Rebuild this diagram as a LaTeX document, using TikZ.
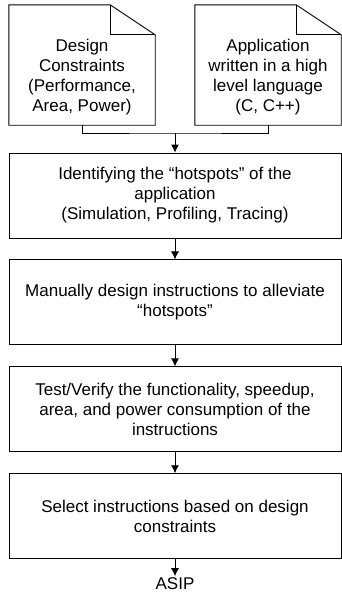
\documentclass[tikz,border=0pt]{standalone}
\usepackage{fontspec}
\setmainfont{Liberation Sans}
\usetikzlibrary{positioning,calc,arrows.meta}

\begin{document}
\begin{tikzpicture}[x=1pt,y=1pt,
  font=\fontsize{17}{20}\selectfont,
  stage/.style={rectangle,draw,line width=0.9pt,minimum width=332pt,minimum height=85pt,align=center},
  page/.style={rectangle,minimum width=146pt,minimum height=120pt},
  flow/.style={line width=0.9pt,-{Latex[length=8pt,width=8pt]}}]
  \useasboundingbox (0,0) rectangle (342,-592);

  \node[page] (constr) at (82,-65) {};
  \node[align=center,yshift=-12pt] (constrtext) at (constr) {Design\\Constraints\\(Performance,\\Area, Power)};
  \node[page] (app) at (268,-65) {};
  \node[align=center,yshift=-12pt] (apptext) at (app) {Application\\written in a high\\level language\\(C, C++)};
  \foreach \d in {constr,app} {
    \draw[line width=0.9pt] (\d.south west) -- (\d.north west) -- ($(\d.north east)+(-45,0)$)
      -- ($(\d.north east)+(0,-30)$) -- (\d.south east) -- cycle;
    \draw[line width=0.9pt] ($(\d.north east)+(-45,0)$) |- ($(\d.north east)+(0,-30)$);
  }

  \node[stage] (hot) at (175,-195.5) {Identifying the “hotspots” of the\\application\\(Simulation, Profiling, Tracing)};
  \node[stage] (manual) [below=21pt of hot] {Manually design instructions to alleviate\\“hotspots”};
  \node[stage] (verify) [below=21pt of manual] {Test/Verify the functionality, speedup,\\area, and power consumption of the\\instructions};
  \node[stage] (select) [below=21pt of verify] {Select instructions based on design\\constraints};
  \node[inner sep=1pt] (asip) [below=17pt of select] {ASIP};

  \coordinate (join) at (175,-133);
  \draw[line width=0.9pt] (constr.south) |- (join) -| (app.south);
  \draw[flow] (join) -- (hot);
  \draw[flow] (hot) -- (manual);
  \draw[flow] (manual) -- (verify);
  \draw[flow] (verify) -- (select);
  \draw[flow] (select) -- (asip);

\end{tikzpicture}
\end{document}
